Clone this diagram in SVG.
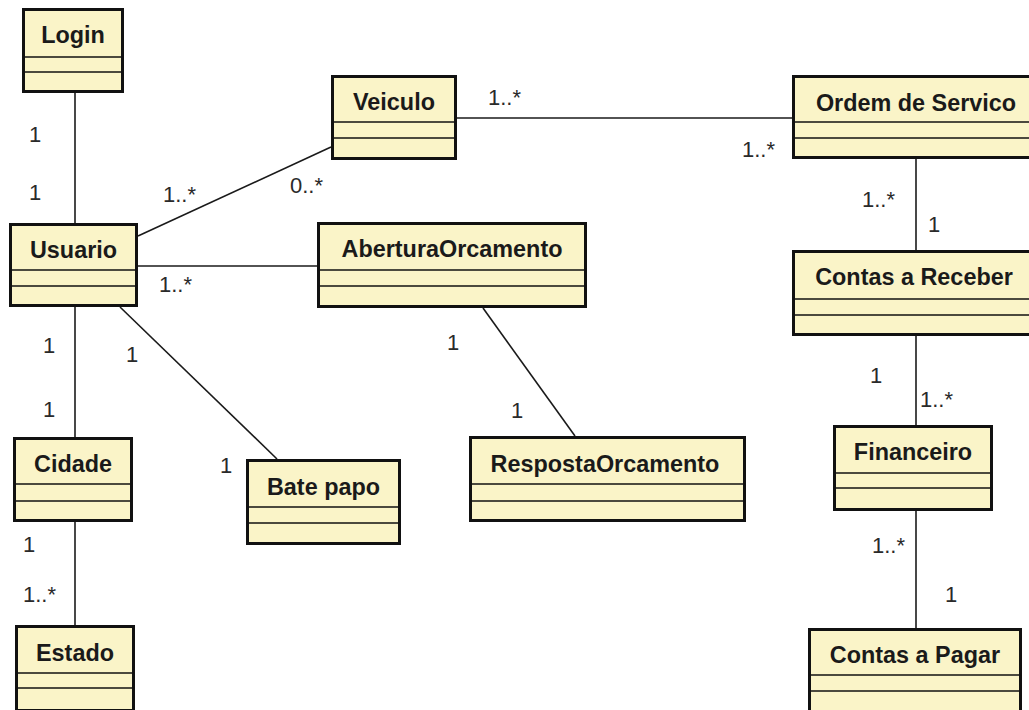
<svg xmlns="http://www.w3.org/2000/svg" width="1029" height="710" viewBox="0 0 1029 710">
  <style>
    .box { fill: #faf4c8; stroke: #111; stroke-width: 3; }
    .div { stroke: #111; stroke-width: 1.5; }
    .name { font-family: "Liberation Sans", Arial, sans-serif; font-size: 23.4px; font-weight: bold; fill: #1a1a1a; text-anchor: middle; }
    .link { stroke: #1a1a1a; stroke-width: 1.6; fill: none; }
    .mult { font-family: "Liberation Sans", Arial, sans-serif; font-size: 22px; fill: #2a2a2a; }
  </style>
  <rect x="0" y="0" width="1029" height="710" fill="#ffffff"/>

  <!-- associations -->
  <g id="connectors">
    <line class="link" x1="75" y1="93" x2="75" y2="223"/>
    <line class="link" x1="138" y1="236" x2="331" y2="147"/>
    <line class="link" x1="138" y1="266" x2="317" y2="266"/>
    <line class="link" x1="75" y1="307" x2="75" y2="437"/>
    <line class="link" x1="120" y1="307" x2="277" y2="459"/>
    <line class="link" x1="457" y1="118" x2="792" y2="118"/>
    <line class="link" x1="483" y1="308" x2="575" y2="436"/>
    <line class="link" x1="916" y1="159" x2="916" y2="250"/>
    <line class="link" x1="916" y1="336" x2="916" y2="425"/>
    <line class="link" x1="916" y1="511" x2="916" y2="628"/>
    <line class="link" x1="75" y1="522" x2="75" y2="625"/>
  </g>

  <!-- multiplicities -->
  <g id="multiplicities">
    <text class="mult" x="29" y="142">1</text>
    <text class="mult" x="29" y="200">1</text>
    <text class="mult" x="163" y="202">1..*</text>
    <text class="mult" x="290" y="193">0..*</text>
    <text class="mult" x="159" y="292">1..*</text>
    <text class="mult" x="43" y="353">1</text>
    <text class="mult" x="43" y="417">1</text>
    <text class="mult" x="126" y="362">1</text>
    <text class="mult" x="220" y="473">1</text>
    <text class="mult" x="488" y="105">1..*</text>
    <text class="mult" x="742" y="157">1..*</text>
    <text class="mult" x="862" y="207">1..*</text>
    <text class="mult" x="928" y="232">1</text>
    <text class="mult" x="447" y="350">1</text>
    <text class="mult" x="511" y="418">1</text>
    <text class="mult" x="870" y="383">1</text>
    <text class="mult" x="920" y="407">1..*</text>
    <text class="mult" x="872" y="553">1..*</text>
    <text class="mult" x="945" y="602">1</text>
    <text class="mult" x="23" y="552">1</text>
    <text class="mult" x="23" y="602">1..*</text>
  </g>

  <!-- classes -->
  <g id="login">
    <rect class="box" x="23.5" y="9.5" width="99" height="82"/>
    <line class="div" x1="23" y1="57" x2="123" y2="57"/>
    <line class="div" x1="23" y1="72" x2="123" y2="72"/>
    <text class="name" x="73" y="43">Login</text>
  </g>
  <g id="usuario">
    <rect class="box" x="10.5" y="224.5" width="126" height="81"/>
    <line class="div" x1="10" y1="270" x2="137" y2="270"/>
    <line class="div" x1="10" y1="286" x2="137" y2="286"/>
    <text class="name" x="73.5" y="258">Usuario</text>
  </g>
  <g id="veiculo">
    <rect class="box" x="332.5" y="76.5" width="123" height="82"/>
    <line class="div" x1="332" y1="122" x2="456" y2="122"/>
    <line class="div" x1="332" y1="138" x2="456" y2="138"/>
    <text class="name" x="394" y="110">Veiculo</text>
  </g>
  <g id="ordem-de-servico">
    <rect class="box" x="793.5" y="76.5" width="245" height="81"/>
    <line class="div" x1="793" y1="122" x2="1039" y2="122"/>
    <line class="div" x1="793" y1="138" x2="1039" y2="138"/>
    <text class="name" x="916" y="111">Ordem de Servico</text>
  </g>
  <g id="abertura-orcamento">
    <rect class="box" x="318.5" y="223.5" width="267" height="83"/>
    <line class="div" x1="318" y1="270" x2="586" y2="270"/>
    <line class="div" x1="318" y1="286" x2="586" y2="286"/>
    <text class="name" x="452" y="257">AberturaOrcamento</text>
  </g>
  <g id="contas-a-receber">
    <rect class="box" x="793.5" y="251.5" width="245" height="83"/>
    <line class="div" x1="793" y1="299" x2="1039" y2="299"/>
    <line class="div" x1="793" y1="315" x2="1039" y2="315"/>
    <text class="name" x="914" y="285">Contas a Receber</text>
  </g>
  <g id="cidade">
    <rect class="box" x="14.5" y="438.5" width="117" height="82"/>
    <line class="div" x1="14" y1="484" x2="132" y2="484"/>
    <line class="div" x1="14" y1="501" x2="132" y2="501"/>
    <text class="name" x="73" y="472">Cidade</text>
  </g>
  <g id="bate-papo">
    <rect class="box" x="247.5" y="460.5" width="152" height="83"/>
    <line class="div" x1="247" y1="507" x2="400" y2="507"/>
    <line class="div" x1="247" y1="523" x2="400" y2="523"/>
    <text class="name" x="323.5" y="495">Bate papo</text>
  </g>
  <g id="resposta-orcamento">
    <rect class="box" x="470.5" y="437.5" width="274" height="83"/>
    <line class="div" x1="470" y1="484" x2="745" y2="484"/>
    <line class="div" x1="470" y1="501" x2="745" y2="501"/>
    <text class="name" x="605" y="472">RespostaOrcamento</text>
  </g>
  <g id="financeiro">
    <rect class="box" x="834.5" y="426.5" width="157" height="83"/>
    <line class="div" x1="834" y1="473" x2="992" y2="473"/>
    <line class="div" x1="834" y1="488" x2="992" y2="488"/>
    <text class="name" x="913" y="460">Financeiro</text>
  </g>
  <g id="estado">
    <rect class="box" x="16.5" y="626.5" width="117" height="84"/>
    <line class="div" x1="16" y1="673" x2="134" y2="673"/>
    <line class="div" x1="16" y1="688" x2="134" y2="688"/>
    <text class="name" x="75" y="661">Estado</text>
  </g>
  <g id="contas-a-pagar">
    <rect class="box" x="809.5" y="629.5" width="211" height="84"/>
    <line class="div" x1="809" y1="675" x2="1021" y2="675"/>
    <line class="div" x1="809" y1="691" x2="1021" y2="691"/>
    <text class="name" x="915" y="663">Contas a Pagar</text>
  </g>
</svg>
